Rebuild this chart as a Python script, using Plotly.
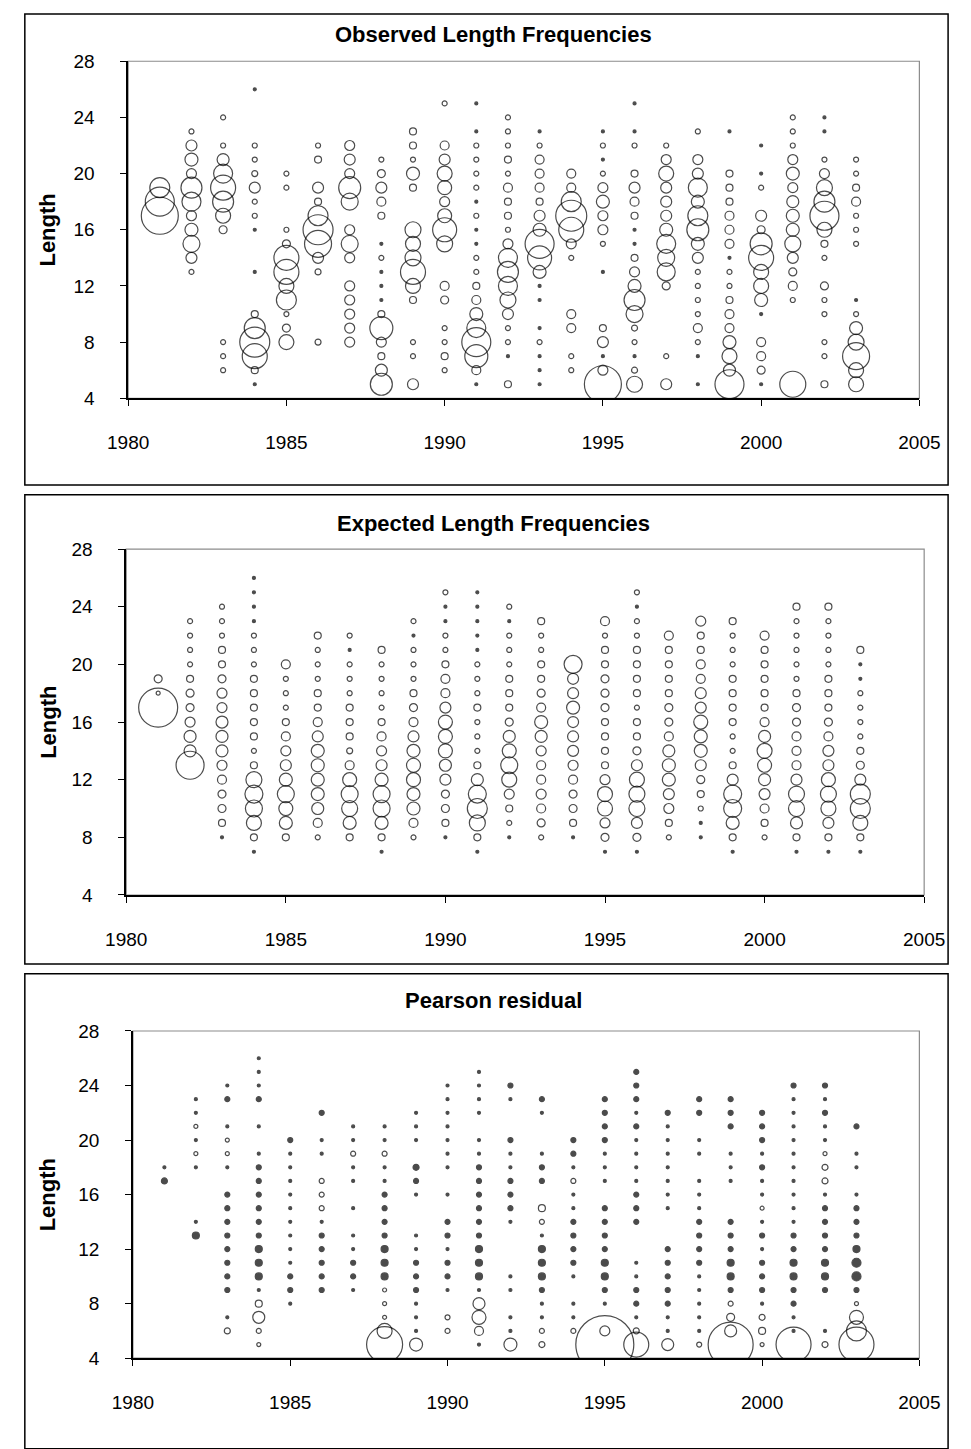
import plotly.graph_objects as go

W, H = 971, 1449

years = [1981, 1982, 1983, 1984, 1985, 1986, 1987, 1988, 1989, 1990, 1991, 1992,
         1993, 1994, 1995, 1996, 1997, 1998, 1999, 2000, 2001, 2002, 2003]

# Observed length frequencies: lengths per year and bubble magnitude per length
obs_len = [
    [19, 18, 17],
    [23, 22, 21, 20, 19, 18, 17, 16, 15, 14, 13],
    [24, 22, 21, 20, 19, 18, 17, 16, 8, 7, 6],
    [26, 22, 21, 20, 19, 18, 17, 16, 13, 10, 9, 8, 7, 6, 5],
    [20, 19, 16, 15, 14, 13, 12, 11, 10, 9, 8],
    [22, 21, 19, 18, 17, 16, 15, 14, 13, 8],
    [22, 21, 20, 19, 18, 16, 15, 14, 12, 11, 10, 9, 8],
    [21, 20, 19, 18, 17, 15, 14, 13, 12, 11, 10, 9, 8, 7, 6, 5],
    [23, 22, 21, 20, 19, 16, 15, 14, 13, 12, 11, 8, 7, 5],
    [25, 22, 21, 20, 19, 18, 17, 16, 15, 12, 11, 9, 8, 7, 6],
    [25, 23, 22, 21, 20, 19, 18, 17, 16, 15, 14, 13, 12, 11, 10, 9, 8, 7, 6, 5],
    [24, 23, 22, 21, 20, 19, 18, 17, 16, 15, 14, 13, 12, 11, 10, 9, 8, 7, 5],
    [23, 22, 21, 20, 19, 18, 17, 16, 15, 14, 13, 12, 11, 9, 8, 7, 6, 5],
    [20, 19, 18, 17, 16, 15, 14, 10, 9, 7, 6],
    [23, 22, 21, 20, 19, 18, 17, 16, 15, 13, 9, 8, 7, 6, 5],
    [25, 23, 22, 20, 19, 18, 17, 16, 15, 14, 13, 12, 11, 10, 9, 8, 7, 6, 5],
    [22, 21, 20, 19, 18, 17, 16, 15, 14, 13, 12, 7, 5],
    [23, 21, 20, 19, 18, 17, 16, 15, 14, 13, 12, 11, 10, 9, 8, 7, 5],
    [23, 20, 19, 18, 17, 16, 15, 14, 13, 12, 11, 10, 9, 8, 7, 6, 5],
    [22, 20, 19, 17, 16, 15, 14, 13, 12, 11, 10, 8, 7, 6, 5],
    [24, 23, 22, 21, 20, 19, 18, 17, 16, 15, 14, 13, 12, 11, 5],
    [24, 23, 21, 20, 19, 18, 17, 16, 15, 14, 12, 11, 10, 8, 7, 5],
    [21, 20, 19, 18, 17, 16, 15, 11, 10, 9, 8, 7, 6, 5],
]
obs_val = [
    [20, 29, 37],
    [5, 11, 13, 10, 21, 19, 10, 13, 17, 11, 5],
    [5, 5, 12, 19, 25, 21, 15, 8, 5, 5, 5],
    [3, 5, 5, 6, 11, 5, 5, 3, 3, 7, 21, 30, 25, 7, 3],
    [5, 5, 5, 8, 25, 25, 15, 20, 5, 8, 15],
    [5, 7, 11, 7, 20, 30, 27, 11, 6, 6],
    [10, 11, 10, 22, 17, 10, 17, 10, 10, 10, 10, 10, 10],
    [5, 8, 11, 9, 7, 3, 5, 3, 3, 3, 7, 23, 10, 7, 12, 22],
    [7, 7, 5, 13, 7, 16, 15, 16, 25, 15, 7, 5, 5, 11],
    [5, 9, 11, 15, 14, 10, 14, 24, 16, 9, 8, 5, 5, 7, 5],
    [3, 3, 5, 5, 5, 5, 3, 5, 3, 3, 5, 5, 7, 9, 13, 19, 29, 23, 9, 3],
    [5, 5, 5, 7, 5, 9, 7, 7, 5, 10, 19, 21, 19, 16, 11, 5, 5, 3, 7],
    [3, 5, 9, 9, 9, 7, 11, 13, 29, 24, 13, 3, 3, 3, 5, 3, 3, 3],
    [9, 9, 20, 31, 25, 10, 5, 9, 9, 5, 5],
    [3, 5, 3, 5, 10, 13, 10, 10, 5, 3, 7, 11, 3, 10, 37],
    [3, 3, 5, 7, 11, 9, 7, 3, 3, 7, 10, 13, 21, 17, 6, 5, 3, 6, 16],
    [5, 10, 15, 11, 11, 11, 13, 19, 17, 18, 8, 5, 11],
    [5, 10, 11, 19, 13, 20, 22, 13, 11, 5, 5, 5, 5, 9, 5, 3, 3],
    [3, 7, 7, 7, 9, 9, 9, 3, 5, 5, 7, 9, 9, 13, 15, 12, 29],
    [3, 3, 5, 11, 8, 22, 25, 15, 15, 13, 3, 9, 9, 8, 3],
    [5, 5, 5, 10, 13, 10, 12, 13, 13, 16, 11, 8, 9, 5, 26],
    [3, 3, 5, 10, 16, 21, 29, 15, 7, 5, 8, 5, 5, 5, 5, 7],
    [5, 5, 7, 9, 5, 5, 5, 3, 5, 13, 16, 27, 15, 15],
]

# Expected length frequencies
exp_len = [
    [19, 18, 17],
    [23, 22, 21, 20, 19, 18, 17, 16, 15, 14, 13],
    [24, 23, 22, 21, 20, 19, 18, 17, 16, 15, 14, 13, 12, 11, 10, 9, 8],
    [26, 25, 24, 23, 22, 21, 20, 19, 18, 17, 16, 15, 14, 13, 12, 11, 10, 9, 8, 7],
    [20, 19, 18, 17, 16, 15, 14, 13, 12, 11, 10, 9, 8],
    [22, 21, 20, 19, 18, 17, 16, 15, 14, 13, 12, 11, 10, 9, 8],
    [22, 21, 20, 19, 18, 17, 16, 15, 14, 13, 12, 11, 10, 9, 8],
    [21, 20, 19, 18, 17, 16, 15, 14, 13, 12, 11, 10, 9, 8, 7],
    [23, 22, 21, 20, 19, 18, 17, 16, 15, 14, 13, 12, 11, 10, 9, 8],
    [25, 24, 23, 22, 21, 20, 19, 18, 17, 16, 15, 14, 13, 12, 11, 10, 9, 8],
    [25, 24, 23, 22, 21, 20, 19, 18, 17, 16, 15, 14, 13, 12, 11, 10, 9, 8, 7],
    [24, 23, 22, 21, 20, 19, 18, 17, 16, 15, 14, 13, 12, 11, 10, 9, 8],
    [23, 22, 21, 20, 19, 18, 17, 16, 15, 14, 13, 12, 11, 10, 9, 8],
    [20, 19, 18, 17, 16, 15, 14, 13, 12, 11, 10, 9, 8],
    [23, 22, 21, 20, 19, 18, 17, 16, 15, 14, 13, 12, 11, 10, 9, 8, 7],
    [25, 24, 23, 22, 21, 20, 19, 18, 17, 16, 15, 14, 13, 12, 11, 10, 9, 8, 7],
    [22, 21, 20, 19, 18, 17, 16, 15, 14, 13, 12, 11, 10, 9, 8],
    [23, 22, 21, 20, 19, 18, 17, 16, 15, 14, 13, 12, 11, 10, 9, 8],
    [23, 22, 21, 20, 19, 18, 17, 16, 15, 14, 13, 12, 11, 10, 9, 8, 7],
    [22, 21, 20, 19, 18, 17, 16, 15, 14, 13, 12, 11, 10, 9, 8],
    [24, 23, 22, 21, 20, 19, 18, 17, 16, 15, 14, 13, 12, 11, 10, 9, 8, 7],
    [24, 23, 22, 21, 20, 19, 18, 17, 16, 15, 14, 13, 12, 11, 10, 9, 8, 7],
    [21, 20, 19, 18, 17, 16, 15, 14, 13, 12, 11, 10, 9, 8, 7],
]
exp_val = [
    [8, 4, 39],
    [5, 5, 5, 5, 7, 8, 8, 10, 12, 12, 28],
    [5, 5, 5, 7, 7, 8, 10, 10, 12, 12, 12, 10, 9, 8, 8, 7, 3],
    [3, 3, 3, 3, 5, 5, 5, 7, 7, 7, 7, 7, 5, 7, 16, 18, 17, 15, 7, 3],
    [9, 5, 5, 5, 7, 9, 10, 11, 13, 17, 14, 13, 7],
    [7, 5, 5, 5, 7, 7, 9, 11, 13, 13, 13, 13, 12, 9, 5],
    [5, 3, 5, 5, 5, 7, 7, 7, 6, 9, 14, 17, 16, 13, 7],
    [7, 5, 5, 5, 5, 7, 9, 10, 11, 13, 17, 17, 13, 7, 3],
    [5, 3, 5, 5, 5, 7, 8, 9, 11, 13, 14, 14, 13, 13, 9, 5],
    [5, 3, 3, 5, 5, 7, 9, 9, 11, 14, 14, 14, 12, 11, 8, 8, 7, 3],
    [3, 3, 3, 3, 3, 5, 5, 5, 7, 5, 5, 5, 7, 12, 18, 20, 16, 7, 3],
    [5, 3, 5, 5, 5, 7, 7, 7, 8, 12, 14, 17, 15, 10, 7, 5, 3],
    [7, 5, 5, 7, 7, 8, 9, 13, 12, 10, 9, 9, 10, 9, 8, 5],
    [18, 11, 11, 13, 11, 11, 11, 10, 9, 8, 8, 7, 3],
    [9, 5, 7, 7, 8, 8, 8, 7, 7, 7, 7, 10, 15, 15, 10, 8, 3],
    [5, 3, 5, 5, 7, 7, 7, 7, 5, 7, 7, 8, 11, 15, 16, 16, 11, 8, 3],
    [9, 7, 7, 7, 7, 8, 8, 9, 12, 13, 13, 11, 10, 7, 5],
    [10, 7, 7, 9, 9, 11, 11, 14, 13, 13, 11, 8, 7, 5, 3, 3],
    [7, 5, 5, 5, 7, 7, 7, 7, 5, 5, 7, 11, 18, 18, 13, 7, 3],
    [9, 7, 7, 7, 7, 7, 9, 12, 15, 14, 12, 11, 9, 7, 5],
    [7, 5, 5, 5, 5, 5, 7, 8, 8, 9, 9, 9, 11, 16, 16, 12, 7, 3],
    [7, 5, 5, 5, 5, 7, 7, 7, 8, 9, 11, 11, 14, 16, 15, 11, 7, 3],
    [7, 3, 3, 5, 5, 5, 5, 7, 8, 11, 20, 20, 15, 7, 3],
]

# Pearson residuals (negative = filled, positive = open)
res_len = [
    [18, 17],
    [23, 22, 21, 20, 19, 18, 14, 13],
    [24, 23, 21, 20, 19, 18, 16, 15, 14, 13, 12, 11, 10, 9, 7, 6],
    [26, 25, 24, 23, 21, 19, 18, 17, 16, 15, 14, 13, 12, 11, 10, 9, 8, 7, 6, 5],
    [20, 19, 18, 17, 16, 15, 14, 13, 12, 11, 10, 9, 8],
    [22, 20, 19, 17, 16, 15, 14, 13, 12, 11, 10, 9],
    [21, 20, 19, 18, 17, 15, 13, 12, 11, 10, 9],
    [21, 20, 19, 18, 17, 16, 15, 14, 13, 12, 11, 10, 9, 8, 7, 6, 5],
    [22, 21, 20, 18, 17, 16, 13, 12, 11, 10, 9, 8, 7, 6, 5],
    [24, 23, 22, 21, 20, 19, 18, 16, 14, 13, 12, 11, 10, 9, 7, 6],
    [25, 24, 23, 22, 20, 19, 18, 17, 16, 15, 14, 13, 12, 11, 10, 9, 8, 7, 6, 5],
    [24, 23, 20, 19, 18, 17, 16, 15, 14, 10, 9, 7, 6, 5],
    [23, 22, 19, 18, 17, 15, 14, 13, 12, 11, 10, 9, 8, 7, 6, 5],
    [20, 19, 18, 17, 16, 15, 14, 13, 12, 11, 10, 8, 7, 6],
    [23, 22, 21, 20, 19, 18, 17, 15, 14, 13, 12, 11, 10, 9, 8, 6, 5],
    [25, 24, 23, 22, 21, 20, 19, 18, 17, 16, 15, 14, 11, 10, 9, 8, 7, 6, 5],
    [22, 21, 20, 19, 18, 17, 16, 15, 12, 11, 10, 9, 8, 7, 6, 5],
    [23, 22, 20, 19, 17, 16, 15, 14, 13, 12, 11, 10, 9, 8, 7, 6, 5],
    [23, 22, 21, 19, 18, 17, 14, 13, 12, 11, 10, 9, 8, 7, 6, 5],
    [22, 21, 20, 19, 18, 17, 16, 15, 14, 13, 12, 11, 10, 9, 8, 7, 6, 5],
    [24, 23, 22, 21, 20, 19, 18, 17, 16, 15, 14, 13, 12, 11, 10, 9, 8, 7, 6, 5],
    [24, 23, 22, 21, 20, 19, 18, 17, 16, 15, 14, 13, 12, 11, 10, 9, 6, 5],
    [21, 19, 18, 16, 15, 14, 13, 12, 11, 10, 9, 8, 7, 6, 5],
]
res_val = [
    [-3, -6],
    [-3, -3, 4, -3, 4, -3, -3, -7],
    [-3, -5, -3, 4, 4, -3, -5, -5, -5, -5, -5, -5, -5, -5, -3, 6],
    [-3, -3, -3, -5, -3, 3, -5, -5, -5, -5, -5, -5, -7, -7, -7, 3, 7, 12, 5, 4],
    [-5, -3, -3, -3, -3, -3, 3, 3, -3, -3, -5, -5, -3],
    [-5, -3, 3, 5, 5, 5, -3, -5, -5, -5, -5, -5],
    [-3, -3, 5, -3, -3, -3, -3, -3, -5, -5, -3],
    [-3, -3, 5, -3, -3, -5, -5, -5, -5, -7, -7, -7, 4, 4, 4, 15, 36],
    [3, -3, 3, -6, -5, -3, 3, -3, -5, -5, -5, -3, 3, -3, 13],
    [-3, -3, 3, 3, 3, 3, -3, -3, -5, -5, -3, -5, -5, -3, 5, 5],
    [-3, -3, -3, 3, -3, -3, -5, -5, -5, -5, -5, -5, -7, -7, -7, 3, 12, 14, 9, -3],
    [-5, -3, -5, 3, -3, -5, -5, -5, 3, 3, -3, 3, -3, 13],
    [-5, -3, -3, -5, -5, 7, 5, -3, -7, -7, -7, -5, -3, -3, 5, 6],
    [-5, -5, -3, 5, -3, -3, -5, -5, -5, -5, -3, -3, -3, 5],
    [-5, -5, -5, -5, -3, -3, 3, -5, -5, -5, -5, -7, -7, -5, -3, 10, 58],
    [-5, -5, -5, -3, -5, -3, -3, -3, -3, -5, -5, -5, -3, -3, -5, -5, -3, 6, 25],
    [-5, -3, -3, -3, -3, -3, -3, -3, -5, -5, -5, -5, -5, -3, -3, 12],
    [-5, -5, -3, -3, -3, -3, -3, -5, -5, -5, -5, -3, -3, -3, -3, -3, 5],
    [-5, -5, -5, -3, -3, -3, -5, -5, -5, -7, -7, -5, 5, 8, 12, 45],
    [-5, -5, -5, -3, -5, -3, -3, 4, 3, -5, -3, -5, -5, -5, -3, 6, 7, 4],
    [-5, -3, -3, -3, -3, -3, -3, -3, -3, -3, -3, -5, -5, -7, -7, -5, -5, -3, -3, 35],
    [-5, -3, -5, -3, -3, 4, 6, 6, -3, -5, -5, -5, -5, -7, -7, -5, -3, 6],
    [-5, 3, -3, -3, -5, -5, -5, -7, -9, -9, -5, 4, 14, 20, 35],
]

titles = ["Observed Length Frequencies", "Expected Length Frequencies", "Pearson residual"]
x_ticks = [1980, 1985, 1990, 1995, 2000, 2005]
y_ticks = [4, 8, 12, 16, 20, 24, 28]

FONT = "Liberation Sans, Arial, sans-serif"
PX_PER_UNIT = 1.0  # bubble diameter scale


def flat(lens, vals):
    xs, ys, vs = [], [], []
    for yr, ls, vv in zip(years, lens, vals):
        for l, v in zip(ls, vv):
            xs.append(yr)
            ys.append(l)
            vs.append(v)
    return xs, ys, vs


def py(p):
    return 1 - p / H


# plot-area geometry (pixels): left, right, top, bottom
geo = [
    (112, 939, 52, 394),
    (110, 944, 547, 898),
    (117, 939, 1036, 1368),
]
frames = [(4, 969, 4, 482), (4, 969, 492, 968), (4, 969, 978, 1460)]
title_y = [25, 521, 1005]

fig = go.Figure()

for k, (lens, vals) in enumerate([(obs_len, obs_val), (exp_len, exp_val), (res_len, res_val)]):
    xs, ys, vs = flat(lens, vals)
    sizes = [abs(v) * PX_PER_UNIT for v in vs]
    if k < 2:
        fills = ["black" if abs(v) <= 3 else "rgba(0,0,0,0)" for v in vs]
    else:
        fills = ["black" if (v < 0 or abs(v) <= 3) else "rgba(0,0,0,0)" for v in vs]
    sfx = "" if k == 0 else str(k + 1)
    fig.add_trace(go.Scatter(
        x=xs, y=ys, mode="markers",
        xaxis="x" + sfx, yaxis="y" + sfx,
        marker=dict(size=sizes, color=fills, symbol="circle",
                    line=dict(color="black", width=1.2)),
        cliponaxis=True, showlegend=False, hoverinfo="skip",
    ))

layout = dict(
    width=W, height=H, margin=dict(l=0, r=0, t=0, b=0),
    paper_bgcolor="white", plot_bgcolor="rgba(0,0,0,0)",
    font=dict(family=FONT, color="black"),
    showlegend=False,
)
shapes = []
annotations = []
for k, (l, r, t, b) in enumerate(geo):
    sfx = "" if k == 0 else str(k + 1)
    layout["xaxis" + sfx] = dict(
        domain=[l / W, r / W], range=[1980, 2005], tickvals=x_ticks,
        ticks="outside", ticklen=6, tickcolor="black", tickwidth=1,
        showline=True, linecolor="black", linewidth=1.5,
        showgrid=False, zeroline=False, anchor="y" + sfx,
        tickfont=dict(size=19, family=FONT, color="black"),
        ticklabelstandoff=20,
    )
    layout["yaxis" + sfx] = dict(
        domain=[py(b), py(t)], range=[4, 28], tickvals=y_ticks,
        ticks="outside", ticklen=6, tickcolor="black", tickwidth=1,
        showline=True, linecolor="black", linewidth=1.5,
        showgrid=False, zeroline=False, anchor="x" + sfx,
        tickfont=dict(size=19, family=FONT, color="black"),
        ticklabelstandoff=22,
    )
    shapes.append(dict(type="rect", xref="x" + sfx + " domain", yref="y" + sfx + " domain",
                       x0=0, x1=1, y0=0, y1=1, line=dict(color="#8c8c8c", width=1.2),
                       layer="below"))
    fl, fr, ft, fb = frames[k]
    shapes.append(dict(type="rect", xref="paper", yref="paper",
                       x0=fl / W, x1=fr / W, y0=py(fb), y1=py(ft),
                       line=dict(color="black", width=1.5), layer="below"))
    annotations.append(dict(text="<b>" + titles[k] + "</b>", xref="paper", yref="paper",
                            x=494 / W, y=py(title_y[k]), showarrow=False,
                            xanchor="center", yanchor="middle",
                            font=dict(size=22, family=FONT, color="black")))
    annotations.append(dict(text="<b>Length</b>", xref="paper", yref="paper",
                            x=28 / W, y=py((t + b) / 2), showarrow=False, textangle=-90,
                            xanchor="center", yanchor="middle",
                            font=dict(size=22, family=FONT, color="black")))

layout["shapes"] = shapes
layout["annotations"] = annotations
fig.update_layout(**layout)

fig.write_html(
    "out.html",
    config={"displayModeBar": False},
    post_script="document.body.style.margin='0';document.body.style.overflow='hidden';",
)
